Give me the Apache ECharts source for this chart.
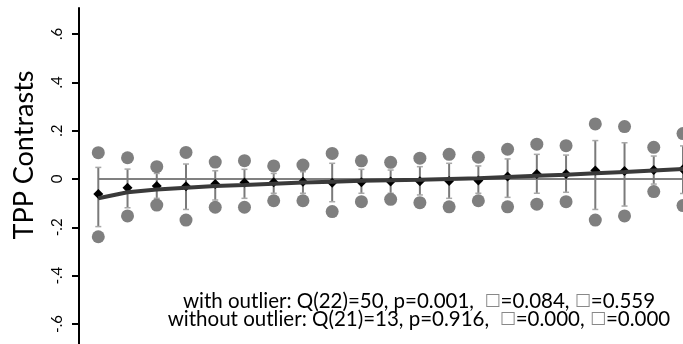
<!DOCTYPE html>
<html>
<head>
<meta charset="utf-8">
<script src="https://cdn.jsdelivr.net/npm/echarts@6/dist/echarts.min.js"></script>
<style>html,body{margin:0;padding:0;background:#fff}#c{width:683px;height:344px}</style>
</head>
<body>
<div id="c"></div>
<script>
const studies = [1,2,3,4,5,6,7,8,9,10,11,12,13,14,15,16,17,18,19,20,21];
const estimate = [-0.062,-0.036,-0.029,-0.030,-0.021,-0.015,-0.013,-0.011,-0.016,-0.013,-0.010,-0.009,-0.008,-0.006,0.010,0.021,0.021,0.035,0.033,0.037,0.040];
const upperDot = [0.109,0.088,0.051,0.110,0.070,0.076,0.054,0.058,0.106,0.075,0.069,0.086,0.102,0.090,0.123,0.144,0.138,0.228,0.217,0.131,0.188];
const lowerDot = [-0.239,-0.153,-0.108,-0.170,-0.117,-0.117,-0.090,-0.090,-0.135,-0.094,-0.084,-0.098,-0.115,-0.090,-0.115,-0.104,-0.094,-0.170,-0.153,-0.052,-0.110];
const barTop = [0.048,0.041,0.023,0.062,0.034,0.040,0.023,0.030,0.065,0.040,0.037,0.051,0.065,0.054,0.083,0.102,0.099,0.159,0.150,0.095,0.137];
const barBottom = [-0.197,-0.119,-0.080,-0.126,-0.087,-0.080,-0.059,-0.059,-0.094,-0.059,-0.059,-0.066,-0.080,-0.059,-0.076,-0.059,-0.055,-0.126,-0.112,-0.021,-0.060];
const fitted = [-0.080,-0.055,-0.043,-0.036,-0.029,-0.025,-0.020,-0.015,-0.011,-0.007,-0.005,-0.003,0.000,0.003,0.008,0.013,0.018,0.024,0.029,0.035,0.041];
const referenceValue = 0;
const yTicks = [-0.6,-0.4,-0.2,0,0.2,0.4,0.6];
const yTickLabels = {'-0.6':'-.6','-0.4':'-.4','-0.2':'-.2','0':'0','0.2':'.2','0.4':'.4','0.6':'.6'};
const yTitle = 'TPP Contrasts';
const noteLines = [
  'with outlier: Q(22)=50, p=0.001,  {b|\u25A1}=0.084, {b|\u25A1}=0.559',
  'without outlier: Q(21)=13, p=0.916,  {b|\u25A1}=0.000, {b|\u25A1}=0.000'
];

const chart = echarts.init(document.getElementById('c'), null, {renderer:'canvas'});
const font = 'Lato, "Open Sans", sans-serif';
chart.setOption({
  animation: false,
  grid: {left: 79, right: 0, top: 8, bottom: 0},
  xAxis: {type:'value', min: 0.34, max: 21, show: false},
  yAxis: {
    type:'value', min: -0.6828, max: 0.7076,
    axisLine: {show:true, lineStyle:{color:'#000', width:2}},
    axisTick: {show:true, length:7, customValues: yTicks, lineStyle:{color:'#000', width:2}},
    axisLabel: {show:true, customValues: yTicks, rotate: 90, margin: 14, color:'#000', fontSize: 15, fontFamily: font,
      formatter: v => yTickLabels[String(Math.round(v*10)/10)] ?? ''},
    splitLine: {show:false}
  },
  graphic: [
    {type:'text', x: 24, y: 155, rotation: Math.PI/2,
     style:{text: yTitle, font: '27px ' + font, fill:'#000', align:'center', verticalAlign:'middle'}},
    {type:'text', x: 419, y: 310,
     style:{text: noteLines.join('\n'), fontFamily: font, fontSize: 20.5, fill:'#000', align:'center', verticalAlign:'middle', lineHeight: 18,
       rich: {b: {fontFamily: '"DejaVu Sans"', fontSize: 17, fill:'#888', lineHeight: 18}}}}
  ],
  series: [
    {type:'line', data: [[studies[0], referenceValue],[21, referenceValue]], symbol:'none',
     lineStyle:{color:'#808080', width:2}, z: 1, silent: true},
    {type:'custom', z: 2, data: studies.map((s,i)=>[s, barTop[i], barBottom[i]]),
     renderItem: (params, api) => {
       const t = api.coord([api.value(0), api.value(1)]);
       const b = api.coord([api.value(0), api.value(2)]);
       const w = 3;
       return {type:'group', children:[
         {type:'line', shape:{x1:t[0], y1:t[1], x2:b[0], y2:b[1]}, style:{stroke:'#7a7a7a', lineWidth:2}},
         {type:'line', shape:{x1:t[0]-w, y1:t[1], x2:t[0]+w, y2:t[1]}, style:{stroke:'#a8a8a8', lineWidth:1.5}},
         {type:'line', shape:{x1:b[0]-w, y1:b[1], x2:b[0]+w, y2:b[1]}, style:{stroke:'#a8a8a8', lineWidth:1.5}}
       ]};
     }},
    {type:'scatter', z: 3, data: studies.map((s,i)=>[s, upperDot[i]]), symbol:'circle', symbolSize: 13,
     itemStyle:{color:'#7f7f7f', opacity:1}},
    {type:'scatter', z: 3, data: studies.map((s,i)=>[s, lowerDot[i]]), symbol:'circle', symbolSize: 13,
     itemStyle:{color:'#7f7f7f', opacity:1}},
    {type:'scatter', z: 4, data: studies.map((s,i)=>[s, estimate[i]]), symbol:'diamond', symbolSize: [10,10],
     itemStyle:{color:'#000', opacity:1}},
    {type:'line', z: 5, data: studies.map((s,i)=>[s, fitted[i]]), symbol:'none',
     lineStyle:{color:'#3a3a3a', width:4}}
  ]
});
</script>
</body>
</html>
